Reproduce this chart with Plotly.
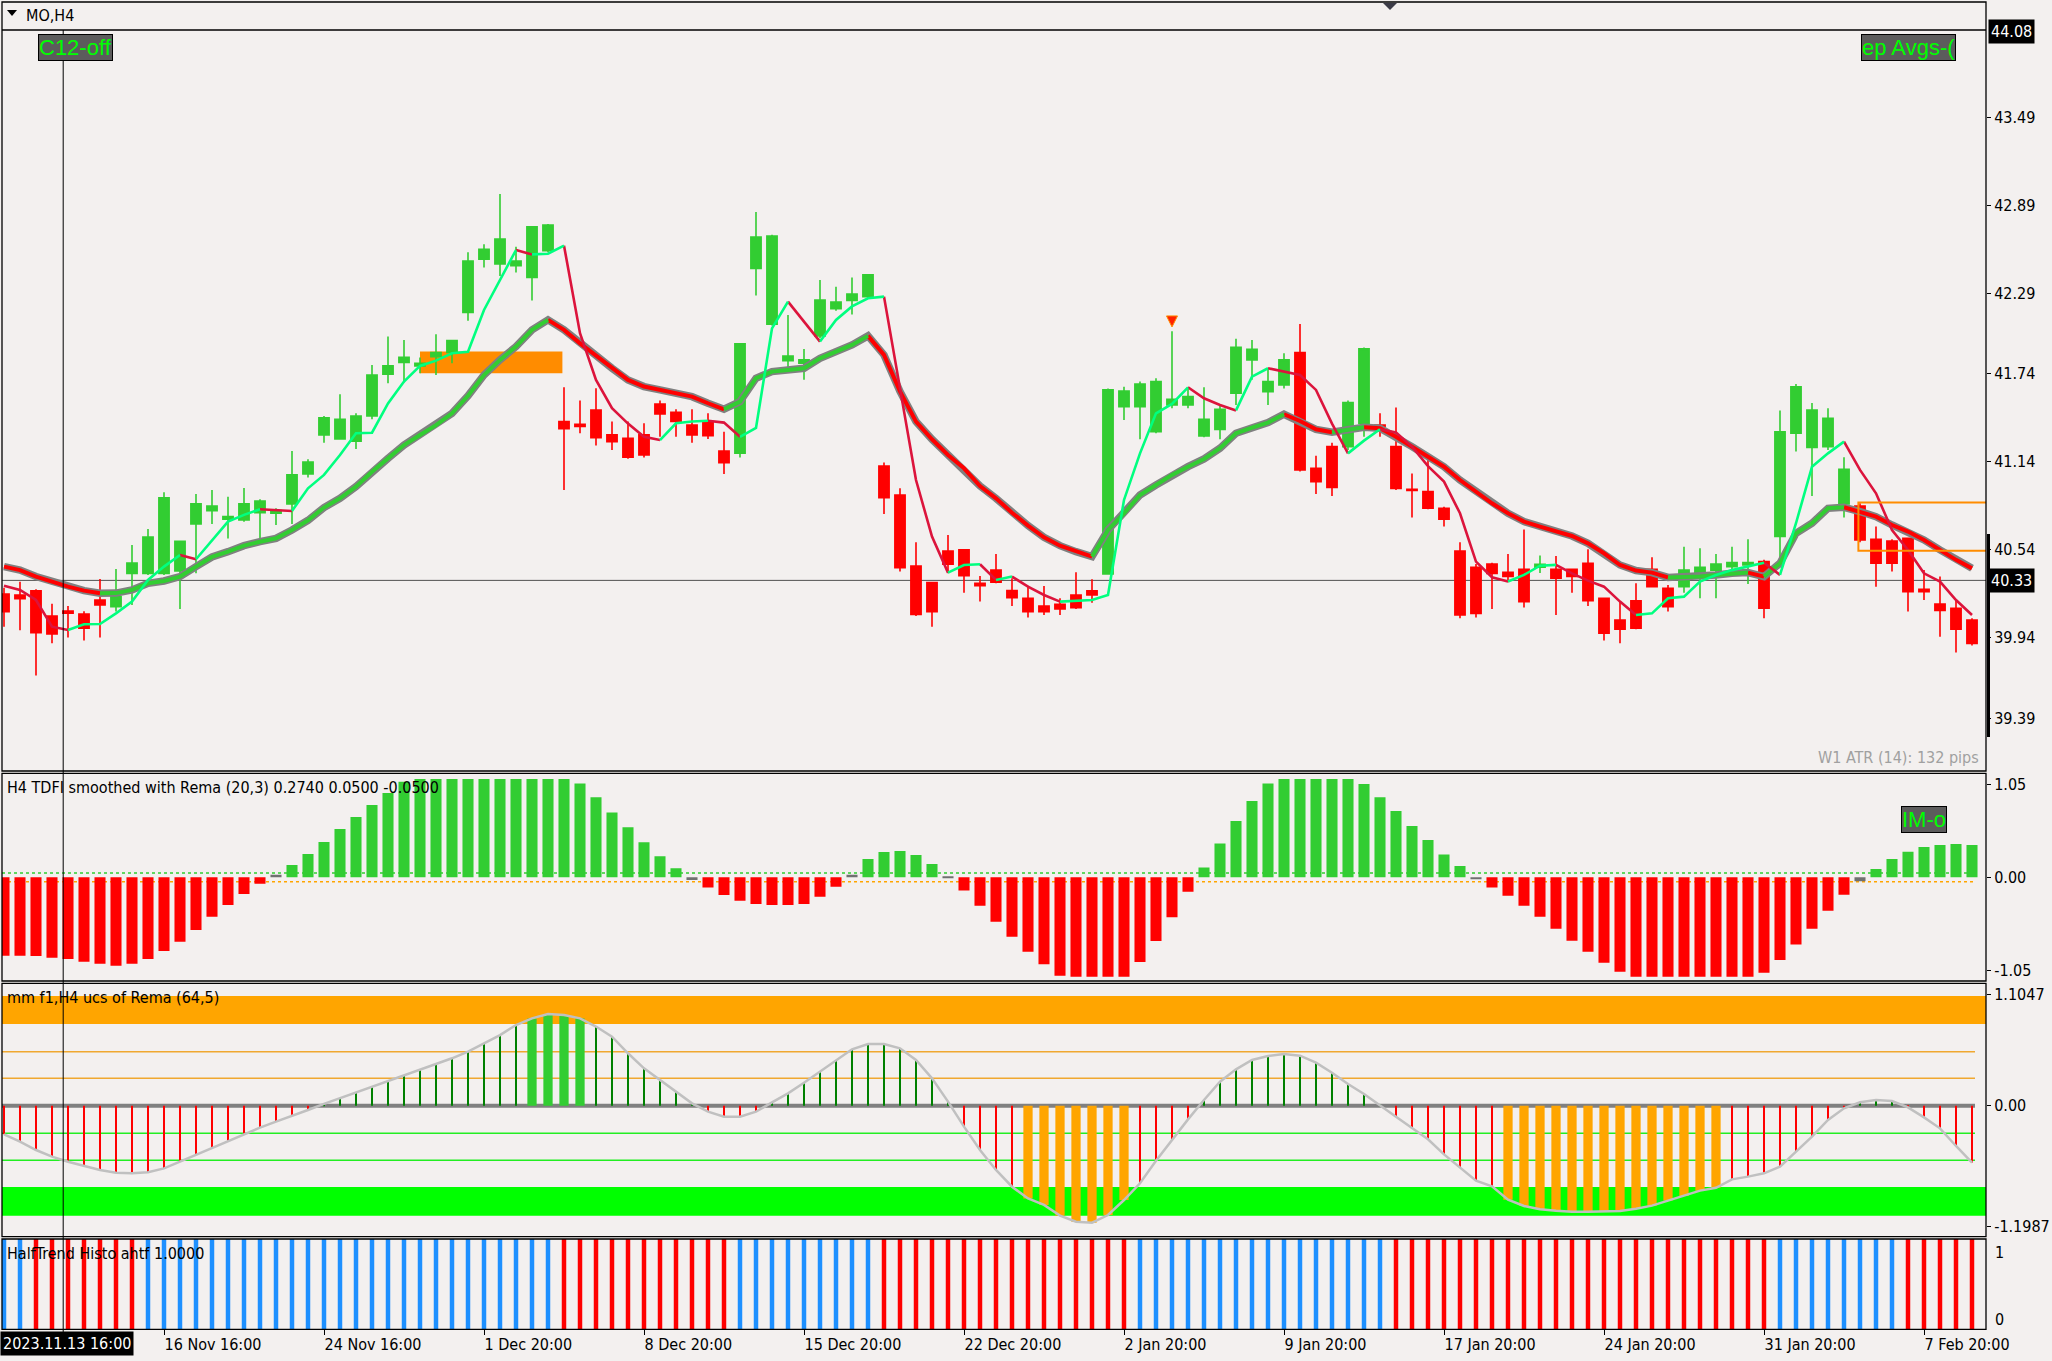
import plotly.graph_objects as go

W, H = 2052, 1361
BG = '#F3F0EF'
FONT = 'Liberation Sans Narrow, Arial Narrow, DejaVu Sans Condensed, Liberation Sans, sans-serif'
FS = 16


def PX(x):
    return x / W


def PY(y):
    return 1 - y / H


# ---------------- data ----------------
symbol_title = 'MO,H4'
x_tick_idx = [10, 20, 30, 40, 50, 60, 70, 80, 90, 100, 110, 120]
x_tick_labels = ['16 Nov 16:00', '24 Nov 16:00', '1 Dec 20:00', '8 Dec 20:00', '15 Dec 20:00',
                 '22 Dec 20:00', '2 Jan 20:00', '9 Jan 20:00', '17 Jan 20:00', '24 Jan 20:00',
                 '31 Jan 20:00', '7 Feb 20:00']
cursor_label = '2023.11.13 16:00'
cursor_bar = 3.7

price_ticks = [43.49, 42.89, 42.29, 41.74, 41.14, 40.54, 39.94, 39.39]
price_tick_labels = ['43.49', '42.89', '42.29', '41.74', '41.14', '40.54', '39.94', '39.39']
price_top = 44.08
price_line = 40.33

opens = [40.237, 40.230, 40.258, 40.087, 40.12, 40.10, 40.196, 40.151, 40.378, 40.378,
         40.378, 40.394, 40.715, 40.806, 40.747, 40.742, 40.792, 40.788, 40.852, 41.056,
         41.323, 41.295, 41.28, 41.452, 41.737, 41.817, 41.794, 41.857, 41.885, 42.158,
         42.522, 42.49, 42.478, 42.397, 42.581, 41.414, 41.395, 41.493, 41.323, 41.30,
         41.323, 41.534, 41.477, 41.39, 41.407, 41.213, 41.198, 42.46, 42.078, 41.83,
         41.812, 41.999, 42.185, 42.24, 42.267, 41.11, 40.913, 40.428, 40.315, 40.53,
         40.538, 40.31, 40.40, 40.26, 40.208, 40.155, 40.167, 40.23, 40.258, 40.374,
         41.516, 41.516, 41.345, 41.527, 41.527, 41.316, 41.361, 41.607, 41.835, 41.618,
         41.664, 41.885, 41.095, 41.243, 41.243, 41.402, 41.39, 41.243, 40.952, 40.936,
         40.822, 40.531, 40.42, 40.442, 40.385, 40.406, 40.42, 40.406, 40.406, 40.447,
         40.208, 40.06, 40.19, 40.406, 40.276, 40.287, 40.378, 40.40, 40.424, 40.435,
         40.458, 40.629, 41.334, 41.238, 41.243, 40.852, 40.838, 40.61, 40.599, 40.617,
         40.269, 40.169, 40.14, 40.06]
highs = [40.28, 40.32, 40.27, 40.17, 40.155, 40.12, 40.34, 40.408, 40.572, 40.681,
         40.931, 40.60, 40.92, 40.947, 40.90, 40.96, 40.884, 40.822, 41.213, 41.157,
         41.452, 41.60, 41.47, 41.80, 41.994, 41.971, 41.852, 42.01, 41.971, 42.57,
         42.624, 42.968, 42.608, 42.743, 42.763, 41.648, 41.557, 41.641, 41.414, 41.414,
         41.402, 41.557, 41.498, 41.498, 41.47, 41.345, 41.95, 42.845, 42.69, 42.142,
         41.91, 42.38, 42.335, 42.397, 42.42, 41.134, 40.958, 40.59, 40.32, 40.64,
         40.54, 40.36, 40.51, 40.344, 40.294, 40.292, 40.208, 40.385, 40.337, 41.64,
         41.652, 41.687, 41.71, 42.03, 41.64, 41.648, 41.527, 41.98, 41.971, 41.778,
         41.88, 42.08, 41.18, 41.27, 41.557, 41.92, 41.47, 41.51, 41.06, 41.186,
         40.833, 40.59, 40.442, 40.45, 40.51, 40.678, 40.50, 40.496, 40.41, 40.542,
         40.21, 40.19, 40.31, 40.488, 40.299, 40.56, 40.549, 40.51, 40.56, 40.61,
         40.47, 41.49, 41.67, 41.54, 41.505, 41.17, 40.856, 40.697, 40.61, 40.617,
         40.40, 40.356, 40.196, 40.071]
lows = [40.014, 39.99, 39.68, 39.90, 39.94, 39.92, 39.94, 40.117, 40.162, 40.367,
        40.367, 40.135, 40.378, 40.715, 40.615, 40.731, 40.606, 40.708, 40.715, 41.032,
        41.27, 41.29, 41.227, 41.43, 41.675, 41.680, 41.744, 41.732, 41.812, 42.103,
        42.465, 42.408, 42.431, 42.24, 42.57, 40.947, 41.334, 41.25, 41.22, 41.16,
        41.168, 41.31, 41.31, 41.27, 41.295, 41.056, 41.168, 42.274, 42.07, 41.771,
        41.70, 41.983, 42.17, 42.144, 42.25, 40.783, 40.39, 40.087, 40.014, 40.378,
        40.246, 40.185, 40.31, 40.155, 40.076, 40.094, 40.094, 40.135, 40.178, 40.37,
        41.425, 41.293, 41.334, 41.505, 41.505, 41.307, 41.293, 41.527, 41.70, 41.527,
        41.64, 41.073, 40.92, 40.906, 41.22, 41.31, 41.31, 40.947, 40.76, 40.815,
        40.697, 40.071, 40.076, 40.135, 40.317, 40.144, 40.38, 40.094, 40.246, 40.155,
        39.92, 39.90, 39.996, 40.287, 40.117, 40.246, 40.208, 40.208, 40.356, 40.306,
        40.071, 40.424, 41.209, 40.906, 41.22, 40.76, 40.59, 40.287, 40.39, 40.117,
        40.196, 39.946, 39.837, 39.885]
closes = [40.117, 40.205, 39.973, 39.964, 40.106, 40.003, 40.162, 40.219, 40.449, 40.626,
          40.893, 40.597, 40.852, 40.838, 40.765, 40.852, 40.872, 40.806, 41.05, 41.138,
          41.439, 41.43, 41.452, 41.732, 41.794, 41.852, 41.812, 41.885, 41.967, 42.51,
          42.59, 42.66, 42.51, 42.743, 42.756, 41.366, 41.38, 41.304, 41.277, 41.17,
          41.186, 41.466, 41.414, 41.322, 41.318, 41.134, 41.944, 42.674, 42.681, 41.862,
          41.835, 42.244, 42.23, 42.285, 42.415, 40.895, 40.417, 40.098, 40.117, 40.44,
          40.362, 40.294, 40.317, 40.212, 40.117, 40.117, 40.135, 40.144, 40.23, 41.63,
          41.623, 41.67, 41.687, 41.566, 41.585, 41.43, 41.498, 41.921, 41.908, 41.687,
          41.835, 41.084, 41.004, 40.965, 41.543, 41.91, 41.38, 40.958, 40.943, 40.822,
          40.747, 40.094, 40.105, 40.378, 40.356, 40.185, 40.44, 40.345, 40.356, 40.192,
          39.969, 39.996, 40.003, 40.287, 40.151, 40.40, 40.42, 40.442, 40.451, 40.451,
          40.14, 41.345, 41.652, 41.493, 41.436, 41.088, 40.606, 40.447, 40.447, 40.253,
          40.253, 40.124, 39.996, 39.90]

fast_line = [40.294, 40.265, 40.196, 40.014, 39.991, 40.03, 40.032, 40.105, 40.185, 40.333,
             40.424, 40.503, 40.474, 40.606, 40.731, 40.777, 40.815, 40.81, 40.804, 40.958,
             41.05, 41.186, 41.334, 41.338, 41.538, 41.687, 41.794, 41.83, 41.88, 41.89,
             42.176, 42.38, 42.585, 42.555, 42.56, 42.615, 42.017, 41.698, 41.505, 41.40,
             41.31, 41.288, 41.402, 41.414, 41.42, 41.407, 41.31, 41.37, 42.05, 42.233,
             42.096, 41.96, 42.108, 42.2, 42.256, 42.267, 41.65, 41.015, 40.629, 40.383,
             40.435, 40.44, 40.333, 40.356, 40.287, 40.23, 40.185, 40.19, 40.196, 40.23,
             40.879, 41.197, 41.47, 41.534, 41.648, 41.573, 41.527, 41.49, 41.721, 41.778,
             41.755, 41.732, 41.63, 41.40, 41.197, 41.284, 41.362, 41.34, 41.243, 41.11,
             41.004, 40.788, 40.458, 40.351, 40.322, 40.367, 40.43, 40.436, 40.378, 40.328,
             40.287, 40.185, 40.094, 40.105, 40.208, 40.219, 40.322, 40.367, 40.40, 40.428,
             40.451, 40.367, 40.72, 41.106, 41.197, 41.277, 41.084, 40.924, 40.674, 40.538,
             40.378, 40.322, 40.196, 40.094]
slow_line = [40.424, 40.40, 40.356, 40.32, 40.287, 40.26, 40.242, 40.243, 40.265, 40.31,
             40.326, 40.356, 40.424, 40.49, 40.526, 40.567, 40.594, 40.617, 40.674, 40.74,
             40.827, 40.89, 40.97, 41.072, 41.163, 41.254, 41.322, 41.39, 41.47, 41.59,
             41.732, 41.835, 41.926, 42.04, 42.108, 42.04, 41.948, 41.862, 41.778, 41.698,
             41.653, 41.63, 41.607, 41.584, 41.539, 41.498, 41.55, 41.71, 41.755, 41.766,
             41.778, 41.846, 41.892, 41.937, 41.999, 41.869, 41.62, 41.414, 41.293, 41.186,
             41.095, 40.974, 40.89, 40.792, 40.704, 40.624, 40.567, 40.526, 40.492, 40.674,
             40.788, 40.913, 40.981, 41.05, 41.106, 41.159, 41.232, 41.334, 41.373, 41.407,
             41.464, 41.418, 41.361, 41.341, 41.357, 41.375, 41.368, 41.31, 41.243, 41.175,
             41.106, 41.015, 40.936, 40.856, 40.788, 40.731, 40.697, 40.663, 40.633, 40.583,
             40.515, 40.435, 40.397, 40.383, 40.35, 40.353, 40.356, 40.367, 40.378, 40.383,
             40.356, 40.447, 40.651, 40.72, 40.822, 40.829, 40.8, 40.765, 40.708, 40.663,
             40.606, 40.538, 40.47, 40.412]

# supply / demand zones and signal
zone1_bars = (26.0, 34.9)
zone1_prices = (41.744, 41.892)
zone2_bars = (115.9, 124.5)
zone2_prices = (40.533, 40.861)
signal_bar = [73]
signal_price = [42.06]

# TDFI histogram
tdfi_vals = [-0.885, -0.885, -0.888, -0.907, -0.922, -0.952, -0.975, -0.997, -0.975, -0.922,
             -0.832, -0.726, -0.595, -0.444, -0.312, -0.189, -0.072, 0.03, 0.139, 0.263,
             0.398, 0.545, 0.68, 0.816, 0.951, 1.08, 1.109, 1.109, 1.109, 1.109,
             1.109, 1.109, 1.109, 1.109, 1.109, 1.109, 1.06, 0.903, 0.733, 0.564,
             0.395, 0.237, 0.102, -0.03, -0.116, -0.199, -0.263, -0.30, -0.312, -0.312,
             -0.30, -0.218, -0.105, 0.03, 0.206, 0.285, 0.297, 0.251, 0.15, 0.01,
             -0.15, -0.32, -0.50, -0.67, -0.84, -0.98, -1.11, -1.122, -1.122, -1.122,
             -1.122, -0.955, -0.718, -0.45, -0.162, 0.11, 0.383, 0.636, 0.862, 1.06,
             1.109, 1.109, 1.109, 1.109, 1.109, 1.053, 0.903, 0.748, 0.579, 0.421,
             0.259, 0.128, -0.02, -0.116, -0.207, -0.32, -0.444, -0.58, -0.715, -0.84,
             -0.964, -1.066, -1.122, -1.122, -1.122, -1.122, -1.122, -1.122, -1.122, -1.122,
             -1.076, -0.933, -0.757, -0.58, -0.377, -0.196, -0.045, 0.094, 0.206, 0.289,
             0.342, 0.364, 0.375, 0.364]
tdfi_levels = [0.05, -0.05]
tdfi_title = 'H4 TDFI smoothed with Rema (20,3) 0.2740 0.0500 -0.0500'
tdfi_ticks = [1.05, 0.0, -1.05]
tdfi_tick_labels = ['1.05', '0.00', '-1.05']

# mm histogram / curve
mm_vals = [-0.284, -0.357, -0.44, -0.506, -0.556, -0.598, -0.638, -0.665, -0.671, -0.661,
           -0.622, -0.556, -0.489, -0.417, -0.347, -0.281, -0.218, -0.159, -0.103, -0.043,
           0.017, 0.073, 0.129, 0.188, 0.248, 0.304, 0.36, 0.413, 0.47, 0.536,
           0.618, 0.70, 0.80, 0.866, 0.91, 0.90, 0.866, 0.785, 0.685, 0.52,
           0.37, 0.255, 0.139, 0.023, -0.06, -0.109, -0.109, -0.06, 0.033, 0.122,
           0.228, 0.337, 0.453, 0.559, 0.612, 0.612, 0.569, 0.453, 0.271, 0.04,
           -0.208, -0.44, -0.638, -0.804, -0.92, -0.985, -1.091, -1.151, -1.161, -1.085,
           -0.936, -0.77, -0.546, -0.341, -0.136, 0.056, 0.238, 0.36, 0.453, 0.493,
           0.513, 0.496, 0.427, 0.327, 0.215, 0.116, 0.007, -0.109, -0.222, -0.334,
           -0.483, -0.612, -0.744, -0.80, -0.933, -0.995, -1.028, -1.042, -1.052, -1.052,
           -1.052, -1.045, -1.022, -0.992, -0.942, -0.896, -0.843, -0.815, -0.731, -0.704,
           -0.671, -0.605, -0.456, -0.308, -0.142, -0.026, 0.033, 0.056, 0.046, -0.017,
           -0.116, -0.225, -0.4, -0.565]
mm_upper_band = (0.81, 1.088)
mm_lower_band = (-1.091, -0.807)
mm_upper_levels = [0.536, 0.272]
mm_lower_levels = [-0.274, -0.542]
mm_title = 'mm f1,H4 ucs of Rema (64,5)'
mm_ticks = [1.1047, 0.0, -1.1987]
mm_tick_labels = ['1.1047', '0.00', '-1.1987']

# HalfTrend histogram (1 = up / blue, -1 = down / red)
ht_dir = [1, 1, -1, -1, -1, -1, -1, -1, -1, 1,
          1, 1, 1, 1, 1, 1, 1, 1, 1, 1,
          1, 1, 1, 1, 1, 1, 1, 1, 1, 1,
          1, 1, 1, 1, 1, -1, -1, -1, -1, -1,
          -1, -1, -1, -1, -1, -1, 1, 1, 1, 1,
          1, 1, 1, 1, 1, -1, -1, -1, -1, -1,
          -1, -1, -1, -1, -1, -1, -1, -1, -1, -1,
          -1, 1, 1, 1, 1, 1, 1, 1, 1, 1,
          1, 1, 1, 1, 1, 1, 1, -1, -1, -1,
          -1, -1, -1, -1, -1, -1, -1, -1, -1, -1,
          -1, -1, -1, -1, -1, -1, -1, -1, -1, -1,
          -1, 1, 1, 1, 1, 1, 1, 1, 1, -1,
          -1, -1, -1, -1]
ht_title = 'HalfTrend Histo ahtf 1.0000'
ht_tick_labels = ['1', '0']

# ---------------- geometry ----------------
X_LEFT, X_RIGHT = 2, 1986
P_MAIN = (30, 771)
P_TDFI = (773.3, 981)
P_MM = (983.3, 1236.7)
P_HT = (1239, 1329.3)
XRANGE = [-0.125, 123.875]
xdom = [PX(X_LEFT), PX(X_RIGHT)]


def dom(p):
    return [PY(p[1]), PY(p[0])]


bars = list(range(len(opens)))
fig = go.Figure()

# ---- main panel ----
fig.add_trace(go.Candlestick(
    x=bars, open=opens, high=highs, low=lows, close=closes,
    increasing=dict(line=dict(color='#32CD32', width=1.6), fillcolor='#32CD32'),
    decreasing=dict(line=dict(color='#FF0000', width=1.6), fillcolor='#FF0000'),
    whiskerwidth=0, xaxis='x', yaxis='y', showlegend=False, hoverinfo='skip'))


def runs_by_slope(vals, up_col, dn_col):
    runs = []
    for i in range(len(vals) - 1):
        col = up_col if vals[i + 1] >= vals[i] else dn_col
        if runs and runs[-1][0] == col:
            runs[-1][1].append(i + 1)
        else:
            runs.append((col, [i, i + 1]))
    out = {}
    for col, idx in runs:
        xs, ys = out.setdefault(col, ([], []))
        xs.extend(idx + [None])
        ys.extend([vals[k] for k in idx] + [None])
    return out


# slow line: gray border then colour
fig.add_trace(go.Scatter(x=bars, y=slow_line, mode='lines', line=dict(color='#808080', width=7.5),
                         xaxis='x', yaxis='y', showlegend=False, hoverinfo='skip'))
for col, (xs, ys) in runs_by_slope(slow_line, '#32CD32', '#FF0000').items():
    fig.add_trace(go.Scatter(x=xs, y=ys, mode='lines', line=dict(color=col, width=4),
                             xaxis='x', yaxis='y', showlegend=False, hoverinfo='skip'))
for col, (xs, ys) in runs_by_slope(fast_line, '#00FF7F', '#DC143C').items():
    fig.add_trace(go.Scatter(x=xs, y=ys, mode='lines', line=dict(color=col, width=2.6),
                             xaxis='x', yaxis='y', showlegend=False, hoverinfo='skip'))
fig.add_trace(go.Scatter(x=signal_bar, y=signal_price, mode='markers',
                         marker=dict(symbol='arrow-down', size=11, color='#FF2000',
                                     line=dict(color='#FF8C00', width=1)),
                         xaxis='x', yaxis='y', showlegend=False, hoverinfo='skip'))

# ---- TDFI panel ----
tdfi_colors = ['#32CD32' if v > 0.05 else ('#FF0000' if v < -0.05 else '#707070') for v in tdfi_vals]
fig.add_trace(go.Bar(x=bars, y=tdfi_vals, width=0.69, marker=dict(color=tdfi_colors, line=dict(width=0)),
                     xaxis='x2', yaxis='y2', showlegend=False, hoverinfo='skip'))

# ---- mm panel ----
mm_colors, mm_widths = [], []
for v in mm_vals:
    if v > mm_upper_band[0]:
        mm_colors.append('#32CD32'); mm_widths.append(0.58)
    elif v >= 0:
        mm_colors.append('#008000'); mm_widths.append(0.1)
    elif v >= mm_lower_band[1]:
        mm_colors.append('#FF0000'); mm_widths.append(0.1)
    else:
        mm_colors.append('#FFA500'); mm_widths.append(0.58)
fig.add_trace(go.Bar(x=bars, y=mm_vals, width=mm_widths, marker=dict(color=mm_colors, line=dict(width=0)),
                     xaxis='x3', yaxis='y3', showlegend=False, hoverinfo='skip'))
fig.add_trace(go.Scatter(x=bars, y=mm_vals, mode='lines', line=dict(color='#C0C0C0', width=2.5),
                         xaxis='x3', yaxis='y3', showlegend=False, hoverinfo='skip'))

# ---- HalfTrend panel ----
ht_colors = ['#1E90FF' if d > 0 else '#FF0000' for d in ht_dir]
fig.add_trace(go.Bar(x=bars, y=[abs(d) for d in ht_dir], width=0.28,
                     marker=dict(color=ht_colors, line=dict(width=0)),
                     xaxis='x4', yaxis='y4', showlegend=False, hoverinfo='skip'))

# ---------------- axes ----------------
common_x = dict(domain=xdom, range=XRANGE, showgrid=False, zeroline=False, showline=False,
                fixedrange=True, automargin=False)
tickfont = dict(family=FONT, size=FS, color='#000000')
common_y = dict(side='right', showgrid=False, zeroline=False, showline=False, ticks='outside',
                ticklen=4, tickcolor='#000000', tickwidth=1, tickfont=tickfont, fixedrange=True,
                automargin=False)

fig.update_layout(
    width=W, height=H, autosize=False, margin=dict(l=0, r=0, t=0, b=0, pad=0, autoexpand=False),
    paper_bgcolor=BG, plot_bgcolor=BG,
    barmode='overlay', boxgap=0.36, boxgroupgap=0,
    showlegend=False,
    xaxis=dict(common_x, anchor='y', showticklabels=False, rangeslider=dict(visible=False)),
    xaxis2=dict(common_x, anchor='y2', matches='x', showticklabels=False),
    xaxis3=dict(common_x, anchor='y3', matches='x', showticklabels=False),
    xaxis4=dict(common_x, anchor='y4', matches='x', tickvals=x_tick_idx, ticktext=x_tick_labels,
                ticks='outside', ticklen=5, tickcolor='#000000', ticklabelposition='outside right',
                tickfont=tickfont),
    yaxis=dict(common_y, domain=dom(P_MAIN), anchor='x',
               range=[price_top - (P_MAIN[1] - 31) / 146.5, price_top + 1 / 146.5],
               tickvals=price_ticks, ticktext=price_tick_labels),
    yaxis2=dict(common_y, domain=dom(P_TDFI), anchor='x2', range=[-1.170, 1.174],
                tickvals=tdfi_ticks, ticktext=tdfi_tick_labels),
    yaxis3=dict(common_y, domain=dom(P_MM), anchor='x3', range=[-1.300, 1.214],
                tickvals=mm_ticks, ticktext=mm_tick_labels),
    yaxis4=dict(common_y, domain=dom(P_HT), anchor='x4', range=[0, 1.0], showticklabels=False,
                ticks=''),
)

shapes = []
# zones in main
shapes.append(dict(type='rect', xref='x', yref='y', x0=zone1_bars[0], x1=zone1_bars[1],
                   y0=zone1_prices[0], y1=zone1_prices[1], fillcolor='#FF8C00',
                   line=dict(width=0), layer='below'))
shapes.append(dict(type='rect', xref='x', yref='y', x0=zone2_bars[0], x1=zone2_bars[1],
                   y0=zone2_prices[0], y1=zone2_prices[1], fillcolor='rgba(0,0,0,0)',
                   line=dict(color='#FF8C00', width=2), layer='above'))
shapes.append(dict(type='line', xref='paper', yref='y', x0=xdom[0], x1=xdom[1],
                   y0=price_line, y1=price_line, line=dict(color='#505050', width=1), layer='below'))
# TDFI levels
for lv, colr in zip(tdfi_levels, ['#32CD32', '#FFA500']):
    shapes.append(dict(type='line', xref='paper', yref='y2', x0=xdom[0], x1=PX(1975),
                       y0=lv, y1=lv, line=dict(color=colr, width=1.5, dash='dot'), layer='below'))
# mm bands and levels
shapes.append(dict(type='rect', xref='paper', yref='y3', x0=xdom[0], x1=xdom[1],
                   y0=mm_upper_band[0], y1=mm_upper_band[1], fillcolor='#FFA500',
                   line=dict(width=0), layer='below'))
shapes.append(dict(type='rect', xref='paper', yref='y3', x0=xdom[0], x1=xdom[1],
                   y0=mm_lower_band[0], y1=mm_lower_band[1], fillcolor='#00FF00',
                   line=dict(width=0), layer='below'))
for lv in mm_upper_levels:
    shapes.append(dict(type='line', xref='paper', yref='y3', x0=xdom[0], x1=PX(1975),
                       y0=lv, y1=lv, line=dict(color='#F0A830', width=1.5), layer='below'))
for lv in mm_lower_levels:
    shapes.append(dict(type='line', xref='paper', yref='y3', x0=xdom[0], x1=PX(1975),
                       y0=lv, y1=lv, line=dict(color='#22EE22', width=1.5), layer='below'))
shapes.append(dict(type='line', xref='paper', yref='y3', x0=xdom[0], x1=PX(1975),
                   y0=0, y1=0, line=dict(color='#808080', width=4), layer='below'))

# frames
frame = dict(color='#000000', width=1.3)
shapes.append(dict(type='rect', xref='paper', yref='paper', x0=PX(X_LEFT), x1=PX(X_RIGHT),
                   y0=PY(P_MAIN[1]), y1=PY(2), line=frame))
shapes.append(dict(type='line', xref='paper', yref='paper', x0=PX(X_LEFT), x1=PX(X_RIGHT),
                   y0=PY(30), y1=PY(30), line=frame))
for p in (P_TDFI, P_MM, P_HT):
    shapes.append(dict(type='rect', xref='paper', yref='paper', x0=PX(X_LEFT), x1=PX(X_RIGHT),
                       y0=PY(p[1]), y1=PY(p[0]), line=frame))
# crosshair
cx = PX(4 + 16 * cursor_bar)
shapes.append(dict(type='line', xref='paper', yref='paper', x0=cx, x1=cx, y0=PY(1333), y1=PY(30),
                   line=dict(color='#000000', width=1)))
# axis marker bar
shapes.append(dict(type='line', xref='paper', yref='paper', x0=PX(1988.5), x1=PX(1988.5),
                   y0=PY(737), y1=PY(534), line=dict(color='#000000', width=3)))
# triangles
shapes.append(dict(type='path', xref='paper', yref='paper',
                   path=f'M {PX(7)},{PY(10)} L {PX(17)},{PY(10)} L {PX(12)},{PY(16)} Z',
                   fillcolor='#000000', line=dict(width=0)))
shapes.append(dict(type='path', xref='paper', yref='paper',
                   path=f'M {PX(1383)},{PY(3)} L {PX(1397)},{PY(3)} L {PX(1390)},{PY(10)} Z',
                   fillcolor='#3C3C48', line=dict(width=0)))
fig.update_layout(shapes=shapes)

ann = []


def txt(x, y, s, size=FS, color='#000000', xanchor='left', family=FONT, **kw):
    ann.append(dict(x=PX(x), y=PY(y), xref='paper', yref='paper', text=s, showarrow=False,
                    xanchor=xanchor, yanchor='middle', font=dict(family=family, size=size, color=color),
                    **kw))


txt(24, 15, symbol_title)
txt(5, 787, tdfi_title)
txt(5, 997, mm_title)
txt(5, 1253, ht_title)
txt(1981, 757, 'W1 ATR (14): 132 pips', color='#A0A0A0', xanchor='right')
txt(1993, 1252, ht_tick_labels[0])
txt(1993, 1319, ht_tick_labels[1])

btn = dict(bgcolor='#5C5C5C', bordercolor='#000000', borderwidth=1, borderpad=0)
txt(38, 47.5, 'C12-off', size=22, color='#00FF00', family='Liberation Sans, Arial, sans-serif', **btn)
txt(1861, 47.5, 'ep Avgs-(', size=22, color='#00FF00', family='Liberation Sans, Arial, sans-serif', **btn)
txt(1901, 820, 'IM-o', size=22, color='#00FF00', family='Liberation Sans, Arial, sans-serif', **btn)

# boxed axis labels
for val in (price_top, price_line):
    ann.append(dict(x=PX(1988), y=val, xref='paper', yref='y', text=f'{val:.2f}', showarrow=False,
                    xanchor='left', yanchor='middle', bgcolor='#000000', borderpad=2,
                    font=dict(family=FONT, size=FS, color='#FFFFFF')))
ann.append(dict(x=0, y=PY(1343), xref='paper', yref='paper', text=cursor_label, showarrow=False,
                xanchor='left', yanchor='middle', bgcolor='#000000', borderpad=2,
                font=dict(family=FONT, size=FS, color='#FFFFFF')))
fig.update_layout(annotations=ann)

fig.write_html('out.html', config={'responsive': False, 'displayModeBar': False},
               default_width='2052px', default_height='1361px',
               post_script="document.body.style.margin='0';document.body.style.overflow='hidden';")
